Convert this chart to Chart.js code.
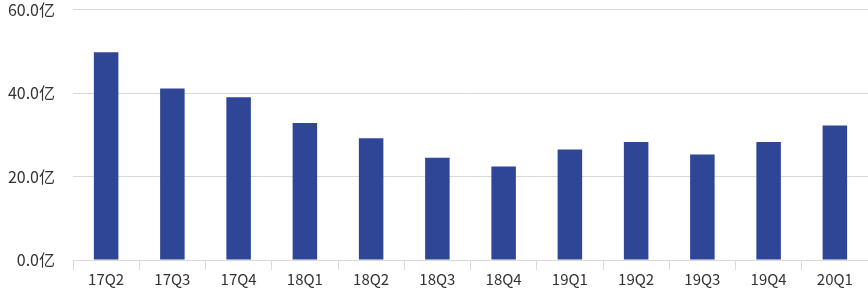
<!DOCTYPE html>
<html>
<head>
<meta charset="utf-8">
<script src="https://cdn.jsdelivr.net/npm/chart.js@4"></script>
<style>
  html, body { margin: 0; padding: 0; background: #fff; }
  #wrap { width: 868px; height: 297px; }
</style>
</head>
<body>
<div id="wrap"><canvas id="Chart2"></canvas></div>
<script>
const quarters = ['17Q2', '17Q3', '17Q4', '18Q1', '18Q2', '18Q3', '18Q4', '19Q1', '19Q2', '19Q3', '19Q4', '20Q1'];
const revenue = [49.8, 41.1, 39.0, 32.8, 29.2, 24.5, 22.4, 26.5, 28.3, 25.3, 28.3, 32.2];
const yTicks = [0, 20, 40, 60];

function processData() {
  const chartConfig = {
    type: 'bar',
    data: {
      labels: quarters,
      datasets: [{
        label: '收入',
        data: revenue,
        backgroundColor: '#2f4696',
        barPercentage: 0.37,
        categoryPercentage: 1.0
      }]
    },
    options: {
      responsive: true,
      maintainAspectRatio: false,
      animation: false,
      layout: { padding: 0 },
      plugins: { legend: { display: false }, tooltip: { enabled: false } },
      scales: {
        x: {
          afterFit: scale => { scale.height = 37; },
          grid: { drawOnChartArea: false, color: '#d9d9d9', tickLength: 10, offset: true },
          border: { display: false },
          ticks: { color: '#333', font: { family: 'Noto Sans CJK SC', size: 15 }, padding: 0 }
        },
        y: {
          min: 0,
          max: 60,
          afterFit: scale => { scale.width = 73; },
          afterBuildTicks: scale => { scale.ticks = yTicks.map(v => ({ value: v })); },
          grid: { color: '#d9d9d9', tickColor: 'rgba(0,0,0,0)', tickLength: 18 },
          border: { display: false },
          ticks: {
            color: '#333',
            font: { family: 'Noto Sans CJK SC', size: 16 },
            padding: 0,
            callback: v => v.toFixed(1) + '亿'
          }
        }
      }
    }
  };

  const ctx = document.getElementById('Chart2').getContext('2d');
  new Chart(ctx, chartConfig);
}

document.addEventListener('DOMContentLoaded', processData);
</script>
</body>
</html>
